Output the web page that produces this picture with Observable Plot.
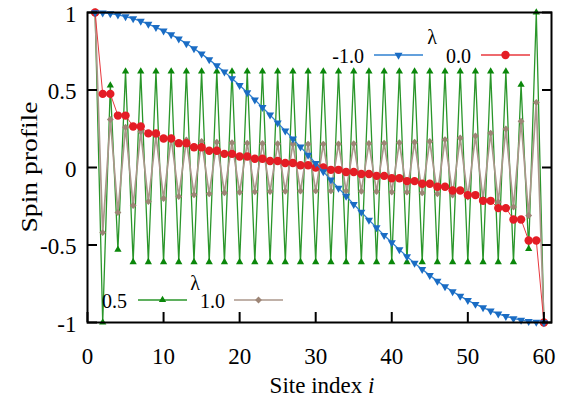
<!DOCTYPE html>
<html><head><meta charset="utf-8">
<script src="https://cdn.jsdelivr.net/npm/d3@7"></script>
<script src="https://cdn.jsdelivr.net/npm/@observablehq/plot@0.6"></script>
<style>
body{margin:0;background:#fff}
#chart{width:565px;height:401px}
#chart svg text{font-family:'Liberation Serif',serif !important}
</style>
</head><body><div id="chart"></div>
<script>
// ---- data ----
const sites = [1,2,3,4,5,6,7,8,9,10,11,12,13,14,15,16,17,18,19,20,21,22,23,24,25,26,27,28,29,30,
               31,32,33,34,35,36,37,38,39,40,41,42,43,44,45,46,47,48,49,50,51,52,53,54,55,56,57,58,59,60];
const lambdaValues = ["-1.0", "0.0", "0.5", "1.0"];
const spinLambdaM1 = [1.000,0.998,0.993,0.985,0.974,0.960,0.944,0.925,0.904,0.882,0.857,0.830,0.800,0.768,0.733,0.696,0.657,0.617,0.574,0.530,0.484,0.437,0.388,0.339,0.288,0.237,0.185,0.133,0.080,0.027,
                      -0.027,-0.080,-0.133,-0.185,-0.237,-0.288,-0.339,-0.388,-0.437,-0.484,-0.530,-0.574,-0.617,-0.657,-0.696,-0.733,-0.768,-0.800,-0.830,-0.857,-0.882,-0.904,-0.925,-0.944,-0.960,-0.974,-0.985,-0.993,-0.998,-1.000];
const spinLambda0 = [1.000,0.475,0.475,0.335,0.335,0.265,0.265,0.220,0.220,0.187,0.187,0.157,0.157,0.131,0.131,0.108,0.108,0.088,0.088,0.071,0.071,0.056,0.056,0.042,0.042,0.029,0.029,0.015,0.015,0.000,
                     0.000,-0.015,-0.015,-0.029,-0.029,-0.042,-0.042,-0.054,-0.054,-0.069,-0.069,-0.088,-0.088,-0.105,-0.105,-0.124,-0.124,-0.148,-0.148,-0.178,-0.178,-0.215,-0.215,-0.262,-0.262,-0.335,-0.335,-0.471,-0.471,-1.000];
const spinLambda05 = [1.000,-1.000,0.530,-0.530,0.620,-0.610,0.620,-0.610,0.620,-0.610,0.620,-0.610,0.620,-0.610,0.620,-0.610,0.620,-0.610,0.620,-0.610,0.620,-0.610,0.620,-0.610,0.620,-0.610,0.620,-0.610,0.620,-0.610,
                      0.620,-0.610,0.620,-0.610,0.620,-0.610,0.620,-0.610,0.620,-0.610,0.620,-0.610,0.620,-0.610,0.620,-0.610,0.620,-0.610,0.620,-0.610,0.620,-0.610,0.620,-0.610,0.620,-0.610,0.535,-0.525,1.000,-1.000];
const spinLambda1 = [1.000,-0.420,0.310,-0.290,0.260,-0.245,0.230,-0.220,0.205,-0.200,0.190,-0.187,0.177,-0.176,0.168,-0.170,0.163,-0.163,0.160,-0.160,0.157,-0.157,0.155,-0.155,0.153,-0.153,0.152,-0.152,0.151,-0.151,
                     0.151,-0.151,0.152,-0.152,0.153,-0.153,0.155,-0.155,0.157,-0.158,0.160,-0.159,0.163,-0.164,0.168,-0.170,0.180,-0.177,0.190,-0.190,0.203,-0.205,0.222,-0.222,0.248,-0.255,0.298,-0.310,0.420,-1.000];
const xTicks = [0, 10, 20, 30, 40, 50, 60];
const yTicks = [-1, -0.5, 0, 0.5, 1];
const yTickLabels = ["-1", "-0.5", "0", "0.5", "1"];

// ---- styles ----
const colBlue = "#1a6cc4", colBlueLine = "#2f80d0";
const colRed = "#e41d25", colRedLine = "#e8383e";
const colGreen = "#0a870a", colGreenLine = "#2a962a";
const colBrown = "#9d8576", colBrownLine = "#ab978b";

const rows = vals => sites.map((s, i) => ({site: s, spin: vals[i]}));
const dM1 = rows(spinLambdaM1), d0 = rows(spinLambda0), d05 = rows(spinLambda05), d1 = rows(spinLambda1);
const font = "'Liberation Serif', serif";

const plot = Plot.plot({
  width: 565, height: 401,
  marginLeft: 87, marginRight: 14, marginTop: 12, marginBottom: 79,
  style: {fontFamily: font, fontSize: "23px", color: "#000", background: "#fff", overflow: "visible"},
  x: {domain: [0, 61]},
  y: {domain: [-1, 1]},
  marks: [
    Plot.line(d05, {x: "site", y: "spin", stroke: colGreenLine, strokeWidth: 1.3}),
    Plot.dot(d05, {x: "site", y: "spin", symbol: "triangle", fill: colGreen, r: 2.7}),
    Plot.line(d1, {x: "site", y: "spin", stroke: colBrownLine, strokeWidth: 1.7}),
    Plot.dot(d1, {x: "site", y: "spin", symbol: "diamond2", fill: colBrown, r: 3.1}),
    Plot.line(d0, {x: "site", y: "spin", stroke: colRedLine, strokeWidth: 1}),
    Plot.dot(d0, {x: "site", y: "spin", symbol: "circle", fill: colRed, r: 4.2}),
    Plot.line(dM1, {x: "site", y: "spin", stroke: colBlueLine, strokeWidth: 1.3}),
    Plot.dot(dM1, {x: "site", y: "spin", symbol: "triangle", rotate: 180, fill: colBlue, r: 3}),
    Plot.axisX({ticks: xTicks, tickSize: -10, strokeWidth: 2, fill: "none", label: null}),
    Plot.axisX({ticks: xTicks, tickSize: 0, tickPadding: 25, label: null, tickFormat: d => String(d)}),
    Plot.axisY({ticks: yTicks, tickSize: -10, strokeWidth: 2, fill: "none", label: null}),
    Plot.axisY({anchor: "right", ticks: yTicks, tickSize: -10, strokeWidth: 2, fill: "none", label: null}),
    Plot.axisY({ticks: yTicks, tickSize: 0, tickPadding: 11, dy: 2, label: null, tickFormat: d => yTickLabels[yTicks.indexOf(d)]}),
    Plot.frame({strokeWidth: 2})
  ]
});
document.getElementById("chart").appendChild(plot);

// ---- titles and legends ----
const svg = d3.select(plot);
svg.append("text").attr("transform", "translate(29,167) rotate(-90) scale(1.2,1)")
  .attr("text-anchor", "middle").attr("dy", "0.35em")
  .style("font-family", font).style("font-size", "23px").text("Spin profile");
const xt = svg.append("text").attr("x", 322).attr("y", 393).attr("text-anchor", "middle")
  .style("font-family", font).style("font-size", "23px");
xt.append("tspan").text("Site index ");
xt.append("tspan").style("font-style", "italic").text("i");

function legend(titleX, titleY, rowY, entries) {
  const g = svg.append("g").style("font-family", font).style("font-size", "20px");
  g.append("text").attr("x", titleX).attr("y", titleY).attr("text-anchor", "middle").attr("dy", "0.35em").text("λ");
  for (const e of entries) {
    g.append("text").attr("x", e.textEnd).attr("y", rowY + 8).attr("text-anchor", "end").text(e.label);
    g.append("line").attr("x1", e.lineStart).attr("x2", e.lineStart + 49).attr("y1", rowY).attr("y2", rowY)
      .attr("stroke", e.line).attr("stroke-width", 1.5);
    g.append("path").attr("d", d3.symbol(e.symbol, Math.PI * e.r * e.r)())
      .attr("transform", `translate(${e.lineStart + 24.5},${rowY}) rotate(${e.rotate || 0})`).attr("fill", e.fill);
  }
}
legend(432, 37, 55, [
  {label: lambdaValues[0], textEnd: 364, lineStart: 374, line: colBlueLine, fill: colBlue, symbol: d3.symbolTriangle, r: 3, rotate: 180},
  {label: lambdaValues[1], textEnd: 471, lineStart: 481, line: colRedLine, fill: colRed, symbol: d3.symbolCircle, r: 4.2}
]);
legend(195, 283, 300, [
  {label: lambdaValues[2], textEnd: 127, lineStart: 138, line: colGreenLine, fill: colGreen, symbol: d3.symbolTriangle, r: 2.7},
  {label: lambdaValues[3], textEnd: 225, lineStart: 234, line: colBrownLine, fill: colBrown, symbol: d3.symbolDiamond2, r: 3.1}
]);
</script>
</body></html>
